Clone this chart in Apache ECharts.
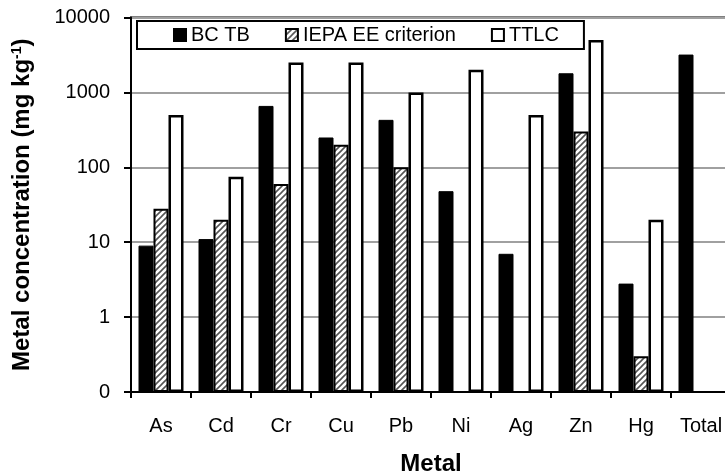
<!DOCTYPE html>
<html>
<head>
<meta charset="utf-8">
<script src="https://cdn.jsdelivr.net/npm/echarts@6/dist/echarts.min.js"></script>
<style>
  html, body { margin: 0; padding: 0; background: #fff; }
  #chart { width: 725px; height: 475px; }
</style>
</head>
<body>
<div id="chart"></div>
<script>
// Metal concentrations (mg/kg) per metal
const categories = ['As', 'Cd', 'Cr', 'Cu', 'Pb', 'Ni', 'Ag', 'Zn', 'Hg', 'Total'];
const bcTB = [9, 11, 660, 250, 430, 48, 7, 1800, 2.8, 3200];
const iepaEE = [28, 20, 60, 200, 100, null, null, 300, 0.3, null];
const ttlc = [500, 75, 2500, 2500, 1000, 2000, 500, 5000, 20, null];
const seriesNames = ['BC TB', 'IEPA EE criterion', 'TTLC'];

const FONT = 'Liberation Sans, Arial, Helvetica, sans-serif';

// Diagonal hatch pattern for the criterion bars
function makeHatch() {
  const s = 6;
  const c = document.createElement('canvas');
  c.width = s; c.height = s;
  const g = c.getContext('2d');
  g.fillStyle = '#ffffff';
  g.fillRect(0, 0, s, s);
  g.strokeStyle = '#555555';
  g.lineWidth = 1.6;
  g.beginPath();
  g.moveTo(-1, s + 1); g.lineTo(s + 1, -1);
  g.moveTo(-1, 1); g.lineTo(1, -1);
  g.moveTo(s - 1, s + 1); g.lineTo(s + 1, s - 1);
  g.stroke();
  return c;
}

const chart = echarts.init(document.getElementById('chart'), null, { renderer: 'canvas' });

chart.setOption({
  animation: false,
  backgroundColor: '#ffffff',
  textStyle: { fontFamily: FONT },
  grid: {
    left: 131, top: 17.5, right: -6, bottom: 83,
    outerBoundsMode: 'none',
    containLabel: false,
    show: true, borderColor: '#000', borderWidth: 2, backgroundColor: 'transparent'
  },
  legend: {
    left: 137, top: 21,
    padding: [4, 25, 4, 36],
    itemGap: 35,
    itemWidth: 12, itemHeight: 12,
    icon: 'rect',
    borderColor: '#000', borderWidth: 2,
    backgroundColor: '#fff',
    textStyle: { fontSize: 20, color: '#000', fontFamily: FONT },
    data: seriesNames
  },
  xAxis: {
    type: 'category',
    data: categories,
    name: 'Metal',
    nameLocation: 'middle',
    nameGap: 60,
    nameTextStyle: { fontSize: 24, fontWeight: 'bold', color: '#000', fontFamily: FONT },
    axisLine: { lineStyle: { color: '#000', width: 2 } },
    axisTick: { show: true, length: 6, lineStyle: { color: '#000', width: 2 } },
    axisLabel: { fontSize: 20, color: '#000', margin: 24, fontFamily: FONT },
    splitLine: { show: false }
  },
  yAxis: {
    type: 'log',
    logBase: 10,
    min: 0.1,
    max: 10000,
    startValue: 0.1,
    name: 'Metal concentration (mg kg{sup|-1})',
    nameLocation: 'middle',
    nameGap: 97,
    nameTextStyle: {
      fontSize: 24, fontWeight: 'bold', color: '#000', fontFamily: FONT,
      rich: {
        sup: { fontSize: 14, fontWeight: 'bold', color: '#000', verticalAlign: 'top', fontFamily: FONT }
      }
    },
    axisLine: { show: true, lineStyle: { color: '#000', width: 2 } },
    axisTick: { show: true, length: 7, lineStyle: { color: '#000', width: 2 } },
    axisLabel: {
      fontSize: 20, color: '#000', margin: 21, fontFamily: FONT,
      formatter: v => (v < 0.5 ? '0' : String(Math.round(v)))
    },
    splitLine: { show: true, lineStyle: { color: '#a0a0a0', width: 2 } }
  },
  series: [
    {
      name: seriesNames[0], type: 'bar', data: bcTB,
      barGap: '0%', barCategoryGap: '25%',
      itemStyle: { color: '#000', borderColor: '#000', borderWidth: 1 }
    },
    {
      name: seriesNames[1], type: 'bar', data: iepaEE,
      barGap: '0%', barCategoryGap: '25%',
      itemStyle: { color: { image: makeHatch(), repeat: 'repeat' }, borderColor: '#000', borderWidth: 2 }
    },
    {
      name: seriesNames[2], type: 'bar', data: ttlc,
      barGap: '0%', barCategoryGap: '25%',
      itemStyle: { color: '#fff', borderColor: '#000', borderWidth: 2.5 }
    }
  ]
});
</script>
</body>
</html>
